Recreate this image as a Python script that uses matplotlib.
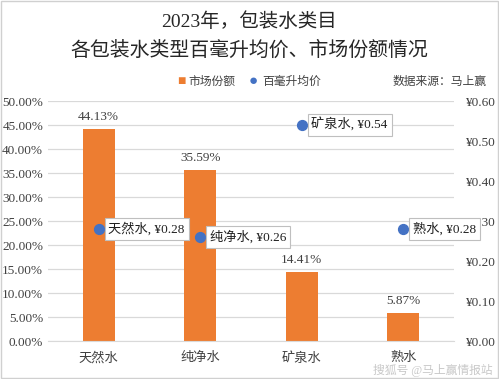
import matplotlib
matplotlib.use("Agg")
import matplotlib.pyplot as plt
from matplotlib.ticker import FuncFormatter
import numpy as np

plt.rcParams['font.family'] = ['Liberation Serif', 'Noto Sans CJK SC']

categories = ['天然水', '纯净水', '矿泉水', '熟水']
market_share = [44.13, 35.59, 14.41, 5.87]   # %
price_per_100ml = [0.28, 0.26, 0.54, 0.28]   # yuan

orange = '#ED7D31'
blue = '#4472C4'
grid_c = '#D9D9D9'

fig = plt.figure(figsize=(4.99, 3.79), dpi=100)
fig.patch.set_facecolor('white')
ax = fig.add_axes([48 / 499, 1 - 341 / 379, 406 / 499, 240 / 379])
ax2 = ax.twinx()

x = np.arange(len(categories))
ax.bar(x, market_share, width=0.32, color=orange, zorder=2)
for xi, v in zip(x, market_share):
    ax.text(xi, v + 1.2, f'{v:.2f}%', ha='center', va='bottom', fontsize=9.5, color='#404040')

ax.set_ylim(0, 50)
ax.set_xlim(-0.5, len(categories) - 0.5)
ax.set_yticks(np.arange(0, 51, 5))
ax.yaxis.set_major_formatter(FuncFormatter(lambda v, p: f'{v:.2f}%'))
ax.grid(axis='y', color=grid_c, linewidth=0.9, zorder=0)
ax.set_axisbelow(True)
ax.set_xticks(x)
ax.set_xticklabels(categories, fontsize=9.5, color='#404040')
ax.tick_params(axis='both', length=0, labelsize=9.5, colors='#404040')
ax.tick_params(axis='x', pad=8)
for s in ['top', 'right', 'left']:
    ax.spines[s].set_visible(False)
ax.spines['bottom'].set_color(grid_c)

ax2.scatter(x, price_per_100ml, s=50, color=blue, zorder=3)
ax2.set_ylim(0, 0.6)
ax2.set_yticks(np.arange(0, 0.61, 0.1))
ax2.yaxis.set_major_formatter(FuncFormatter(lambda v, p: f'¥{v:.2f}'))
ax2.tick_params(axis='y', length=0, labelsize=9.5, colors='#404040', pad=8)
for s in ax2.spines.values():
    s.set_visible(False)
for xi, v, c in zip(x, price_per_100ml, categories):
    ax2.annotate(f'{c}, ¥{v:.2f}', (xi, v), xytext=(7, 0), textcoords='offset points',
                 ha='left', va='center', fontsize=9.5, color='#202020',
                 bbox=dict(boxstyle='square,pad=0.3', fc='white', ec='#BFBFBF', lw=0.8),
                 zorder=4)

# titles
fig.text(0.5, 1 - 22 / 379, '2023年，包装水类目', ha='center', va='center',
         fontsize=14, color='#262626')
fig.text(0.5, 1 - 51 / 379, '各包装水类型百毫升均价、市场份额情况', ha='center', va='center',
         fontsize=14.3, color='#262626')

# legend
fig.text(177 / 499, 1 - 82 / 379, '■', ha='left', va='center', fontsize=10, color=orange)
fig.text(188 / 499, 1 - 82 / 379, '市场份额', ha='left', va='center', fontsize=8.5, color='#404040')
fig.text(249 / 499, 1 - 82 / 379, '●', ha='left', va='center', fontsize=11, color=blue)
fig.text(262 / 499, 1 - 82 / 379, '百毫升均价', ha='left', va='center', fontsize=8.5, color='#404040')
fig.text(487 / 499, 1 - 82 / 379, '数据来源：马上赢', ha='right', va='center', fontsize=8.5, color='#404040')

# watermark
fig.text(493 / 499, 1 - 370 / 379, '搜狐号 @马上赢情报站', ha='right', va='center',
         fontsize=8.5, color='#C8C8C8')

# frame
fig.add_artist(plt.Rectangle((0.002, 0.002), 0.996, 0.996, transform=fig.transFigure,
                             fill=False, ec='#D0D0D0', lw=1))

fig.savefig('out.png', dpi=100)
